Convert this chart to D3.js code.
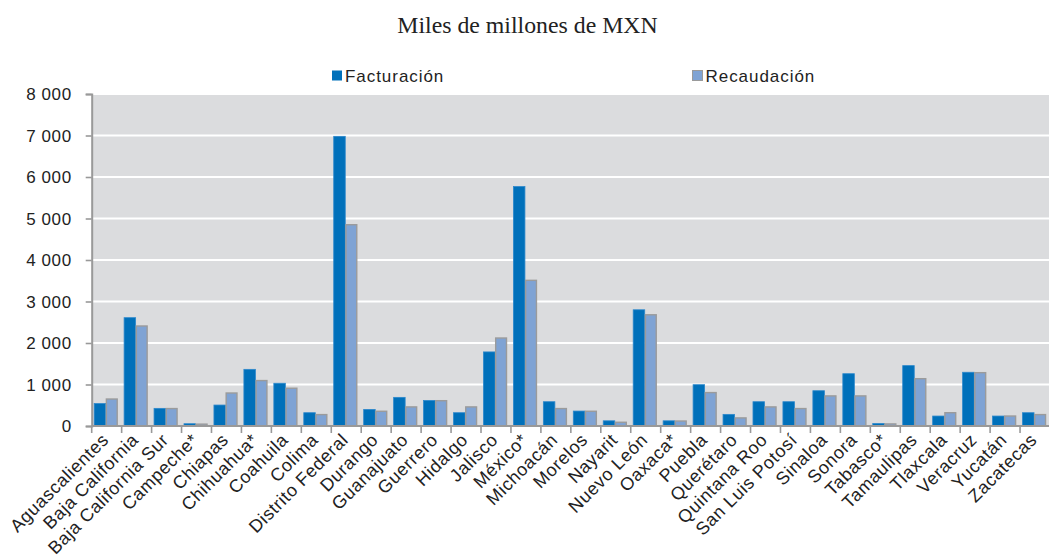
<!DOCTYPE html>
<html>
<head>
<meta charset="utf-8">
<script src="https://cdn.jsdelivr.net/npm/d3@7"></script>
<style>
  html, body { margin: 0; padding: 0; background: #fff; }
  svg { display: block; }
  .sans { font-family: "Liberation Sans", Arial, sans-serif; fill: #222; }
</style>
</head>
<body>
<svg id="chart" width="1049" height="560"></svg>
<script>
// Entidades federativas
const states = [
  "Aguascalientes", "Baja California", "Baja California Sur", "Campeche*", "Chiapas",
  "Chihuahua*", "Coahuila", "Colima", "Distrito Federal", "Durango", "Guanajuato",
  "Guerrero", "Hidalgo", "Jalisco", "México*", "Michoacán", "Morelos", "Nayarit",
  "Nuevo León", "Oaxaca*", "Puebla", "Querétaro", "Quintana Roo", "San Luis Potosí",
  "Sinaloa", "Sonora", "Tabasco*", "Tamaulipas", "Tlaxcala", "Veracruz", "Yucatán",
  "Zacatecas"
];

// Miles de millones de MXN
const facturacion = [
  540, 2610, 425, 55, 505, 1365, 1030, 320, 6980, 400, 690,
  615, 320, 1785, 5770, 585, 360, 125,
  2800, 125, 995, 280, 585, 585,
  850, 1260, 60, 1455, 240, 1295, 240,
  320
];
const recaudacion = [
  650, 2410, 420, 45, 795, 1095, 910, 275, 4850, 355, 460,
  610, 460, 2120, 3510, 420, 355, 90,
  2680, 120, 805, 195, 460, 420,
  725, 725, 50, 1140, 320, 1285, 240,
  275
];

const seriesNames = ["Facturación", "Recaudación"];
const seriesColors = ["#0070BA", "#7FA3D4"];
const yTicks = [0, 1000, 2000, 3000, 4000, 5000, 6000, 7000, 8000];
const chartTitle = "Miles de millones de MXN";

const svg = d3.select("#chart");

const plotLeft = 91.7, plotRight = 1050, plotTop = 94, plotBottom = 426;

const x = d3.scaleBand().domain(states).range([plotLeft, plotRight]).padding(0);
const x1 = d3.scaleBand().domain(seriesNames).range([0, x.bandwidth()]).paddingOuter(0.3);
const y = d3.scaleLinear().domain([0, 8000]).range([plotBottom, plotTop]);

const locale = d3.formatLocale({ decimal: ",", thousands: " ", grouping: [3], currency: ["", ""] });
const fmt = locale.format(",d");

// Title
svg.append("text")
  .attr("x", 527.5).attr("y", 33)
  .attr("text-anchor", "middle")
  .style("font-family", "'Liberation Serif', 'Times New Roman', serif")
  .style("font-size", "23.8px")
  .style("fill", "#222")
  .text(chartTitle);

// Legend
const legendX = [332, 692.5];
const legend = svg.append("g");
seriesNames.forEach((name, i) => {
  legend.append("rect")
    .attr("x", legendX[i]).attr("y", 70.5)
    .attr("width", 10).attr("height", 10)
    .attr("fill", seriesColors[i])
    .attr("stroke", i === 1 ? "#9a9a9a" : "none")
    .attr("stroke-width", 1);
  legend.append("text")
    .attr("class", "sans")
    .attr("x", legendX[i] + 13).attr("y", 81.5)
    .style("font-size", "17px")
    .style("letter-spacing", "0.95px")
    .text(name);
});

// Plot background
svg.append("rect")
  .attr("x", plotLeft).attr("y", plotTop)
  .attr("width", plotRight - plotLeft).attr("height", plotBottom - plotTop)
  .attr("fill", "#DBDCDE");

// Gridlines
svg.append("g")
  .selectAll("line")
  .data(yTicks.filter(t => t > 0))
  .join("line")
  .attr("x1", plotLeft).attr("x2", plotRight)
  .attr("y1", d => y(d)).attr("y2", d => y(d))
  .attr("stroke", "#ffffff")
  .attr("stroke-width", 2);

// Bars
const data = states.map((s, i) => ({ state: s, values: [facturacion[i], recaudacion[i]] }));
const groups = svg.append("g")
  .selectAll("g")
  .data(data)
  .join("g")
  .attr("transform", d => `translate(${x(d.state) - 1},0)`);

groups.selectAll("rect")
  .data(d => d.values.map((v, i) => ({ key: seriesNames[i], value: v, i })))
  .join("rect")
  .attr("x", d => x1(d.key) + (d.i === 1 ? 0.7 : 0))
  .attr("width", d => x1.bandwidth() - (d.i === 1 ? 0.7 : 0))
  .attr("y", d => y(d.value))
  .attr("height", d => plotBottom - y(d.value))
  .attr("fill", d => seriesColors[d.i])
  .attr("stroke", d => d.i === 1 ? "#9b9b9b" : "#2c88cc")
  .attr("stroke-width", d => d.i === 1 ? 1.4 : 0.8);

// Y axis
const yAxis = svg.append("g")
  .attr("transform", `translate(${plotLeft},0)`)
  .call(d3.axisLeft(y).tickValues(yTicks).tickSize(6).tickPadding(14).tickFormat(fmt));
yAxis.select(".domain").attr("stroke", "#999").attr("stroke-width", 2);
yAxis.selectAll(".tick line").attr("stroke", "#999").attr("stroke-width", 1.6);
yAxis.selectAll(".tick text")
  .attr("class", "sans")
  .style("font-size", "17px")
  .style("letter-spacing", "0.6px")
  .attr("dy", "0.35em");

// X axis line and category boundary ticks
const xAxis = svg.append("g");
xAxis.append("line")
  .attr("x1", plotLeft).attr("x2", plotRight)
  .attr("y1", plotBottom).attr("y2", plotBottom)
  .attr("stroke", "#999").attr("stroke-width", 2);
const boundaries = states.map(s => x(s)).concat([x(states[states.length - 1]) + x.bandwidth()]);
xAxis.selectAll(".bt")
  .data(boundaries)
  .join("line")
  .attr("x1", d => d).attr("x2", d => d)
  .attr("y1", plotBottom).attr("y2", plotBottom + 7)
  .attr("stroke", "#999").attr("stroke-width", 1.6);

// Rotated category labels
xAxis.selectAll(".lbl")
  .data(states)
  .join("text")
  .attr("class", "sans")
  .attr("text-anchor", "end")
  .style("font-size", "18px")
  .style("letter-spacing", "0.6px")
  .attr("transform", d => `translate(${x(d) + x.bandwidth() / 2 + 3},${plotBottom + 15}) rotate(-45)`)
  .text(d => d);
</script>
</body>
</html>
